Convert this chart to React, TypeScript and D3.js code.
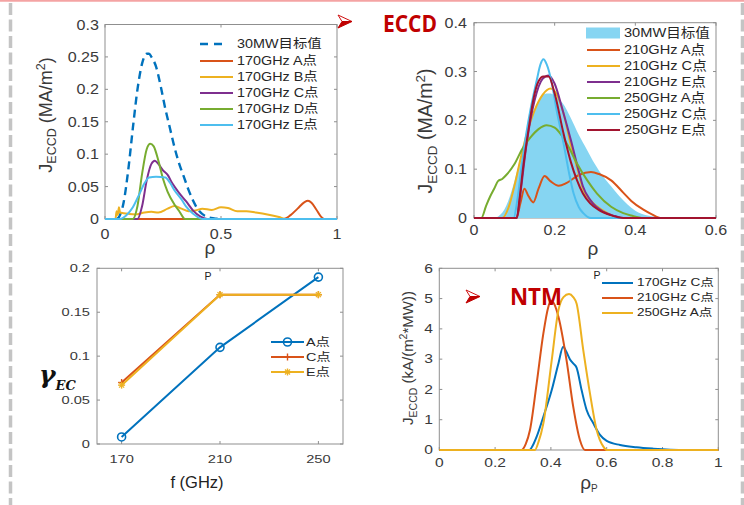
import React from 'react';
import * as d3 from 'd3';

type Pt = [number, number];

// ---------------- data ----------------
const targetProfile: Pt[] = [[0.05,0],[0.06,0.003],[0.08,0.025],[0.10,0.075],[0.12,0.14],[0.14,0.2],[0.16,0.24],[0.18,0.255],[0.19,0.255],[0.20,0.25],[0.22,0.235],[0.24,0.205],[0.26,0.17],[0.28,0.14],[0.30,0.11],[0.32,0.085],[0.34,0.065],[0.36,0.045],[0.38,0.028],[0.40,0.015],[0.43,0.005],[0.47,0.001],[0.5,0]];

const j170A: Pt[] = [[0,0],[0.77,0],[0.8,0.006],[0.83,0.016],[0.86,0.026],[0.875,0.028],[0.89,0.025],[0.91,0.015],[0.93,0.004],[0.945,0],[1,0]];
const j170B: Pt[] = [[0,0],[0.045,0],[0.05,0.012],[0.055,0.006],[0.06,0.018],[0.065,0.01],[0.08,0.009],[0.1,0.008],[0.13,0.007],[0.17,0.01],[0.2,0.011],[0.23,0.01],[0.27,0.016],[0.3,0.02],[0.33,0.016],[0.36,0.012],[0.39,0.013],[0.42,0.016],[0.46,0.014],[0.5,0.018],[0.53,0.017],[0.57,0.012],[0.61,0.012],[0.65,0.01],[0.7,0.007],[0.75,0.003],[0.78,0],[1,0]];
const j170C: Pt[] = [[0,0],[0.14,0],[0.16,0.02],[0.18,0.06],[0.2,0.085],[0.215,0.09],[0.23,0.085],[0.25,0.075],[0.27,0.068],[0.29,0.055],[0.32,0.04],[0.35,0.027],[0.38,0.013],[0.41,0.004],[0.44,0],[1,0]];
const j170D: Pt[] = [[0,0],[0.12,0],[0.14,0.02],[0.16,0.07],[0.18,0.108],[0.195,0.116],[0.21,0.112],[0.23,0.09],[0.25,0.062],[0.27,0.042],[0.3,0.022],[0.32,0.012],[0.345,0],[1,0]];
const j170E: Pt[] = [[0,0],[0.065,0],[0.09,0.005],[0.12,0.018],[0.15,0.04],[0.17,0.055],[0.19,0.064],[0.22,0.065],[0.26,0.064],[0.28,0.056],[0.3,0.044],[0.33,0.03],[0.35,0.019],[0.38,0.008],[0.4,0.003],[0.42,0],[1,0]];

const j210A: Pt[] = [[0,0],[0.105,0],[0.115,0.03],[0.125,0.06],[0.135,0.045],[0.147,0.032],[0.16,0.06],[0.175,0.086],[0.19,0.075],[0.21,0.066],[0.23,0.072],[0.26,0.088],[0.29,0.094],[0.31,0.09],[0.34,0.077],[0.37,0.052],[0.39,0.035],[0.42,0.017],[0.44,0.008],[0.465,0],[0.6,0]];
const j210C: Pt[] = [[0,0],[0.07,0],[0.085,0.02],[0.1,0.065],[0.115,0.12],[0.13,0.17],[0.15,0.22],[0.17,0.252],[0.19,0.265],[0.2,0.26],[0.22,0.22],[0.24,0.15],[0.26,0.09],[0.27,0.06],[0.29,0.035],[0.32,0.015],[0.34,0.006],[0.365,0],[0.6,0]];
const j210E: Pt[] = [[0,0],[0.106,0],[0.115,0.05],[0.13,0.15],[0.15,0.24],[0.17,0.285],[0.185,0.292],[0.2,0.275],[0.22,0.22],[0.24,0.16],[0.26,0.095],[0.27,0.065],[0.29,0.035],[0.32,0.013],[0.35,0.004],[0.37,0],[0.6,0]];
const j250A: Pt[] = [[0,0],[0.018,0],[0.03,0.025],[0.04,0.044],[0.05,0.06],[0.06,0.076],[0.07,0.08],[0.08,0.088],[0.1,0.11],[0.12,0.142],[0.14,0.165],[0.16,0.182],[0.18,0.19],[0.2,0.185],[0.215,0.172],[0.235,0.145],[0.255,0.112],[0.28,0.078],[0.305,0.05],[0.34,0.023],[0.37,0.01],[0.39,0.005],[0.42,0],[0.6,0]];
const j250C: Pt[] = [[0,0],[0.098,0],[0.108,0.04],[0.118,0.105],[0.13,0.175],[0.14,0.222],[0.155,0.28],[0.165,0.315],[0.172,0.325],[0.18,0.315],[0.193,0.276],[0.205,0.22],[0.222,0.153],[0.235,0.095],[0.247,0.05],[0.26,0.022],[0.271,0.01],[0.29,0],[0.6,0]];
const j250E: Pt[] = [[0,0],[0.106,0],[0.113,0.04],[0.122,0.105],[0.135,0.18],[0.147,0.242],[0.16,0.28],[0.172,0.29],[0.185,0.29],[0.2,0.255],[0.222,0.173],[0.24,0.115],[0.255,0.078],[0.27,0.05],[0.288,0.03],[0.31,0.016],[0.338,0.006],[0.37,0],[0.6,0]];

const freqs = [170, 210, 250];
const gammaA = [0.008, 0.11, 0.19];
const gammaC = [0.07, 0.17, 0.17];
const gammaE = [0.067, 0.17, 0.17];

const ntm170C: Pt[] = [[0,0],[0.323,0],[0.335,0.15],[0.349,0.44],[0.373,1.1],[0.403,1.98],[0.427,2.86],[0.444,3.41],[0.455,3.25],[0.468,3.0],[0.48,2.86],[0.492,2.72],[0.51,1.98],[0.528,1.32],[0.552,0.88],[0.576,0.5],[0.6,0.3],[0.648,0.165],[0.707,0.09],[0.767,0.044],[0.827,0.012],[0.886,0],[1,0]];
const ntm210C: Pt[] = [[0,0],[0.295,0],[0.31,0.2],[0.325,0.66],[0.349,2.2],[0.373,3.85],[0.39,4.7],[0.4,4.93],[0.413,4.8],[0.427,4.4],[0.456,2.97],[0.48,1.43],[0.504,0.33],[0.522,0],[1,0]];
const ntm250A: Pt[] = [[0,0],[0.343,0],[0.355,0.25],[0.373,0.88],[0.403,2.97],[0.427,4.62],[0.445,5.05],[0.465,5.15],[0.48,5.05],[0.492,4.84],[0.516,3.3],[0.54,1.87],[0.564,0.66],[0.588,0.11],[0.6,0],[1,0]];

const p1Legend = ['30MW目标值', '170GHz A点', '170GHz B点', '170GHz C点', '170GHz D点', '170GHz E点'];
const p2Legend = ['30MW目标值', '210GHz A点', '210GHz C点', '210GHz E点', '250GHz A点', '250GHz C点', '250GHz E点'];
const p3Legend = ['A点', 'C点', 'E点'];
const p4Legend = ['170GHz C点', '210GHz C点', '250GHz A点'];

const p1XTicks = [0, 0.5, 1];
const p1XLabels = ['0', '0.5', '1'];
const p1YTicks = [0, 0.05, 0.1, 0.15, 0.2, 0.25, 0.3];
const p1YLabels = ['0', '0.05', '0.1', '0.15', '0.2', '0.25', '0.3'];
const p2XTicks = [0, 0.2, 0.4, 0.6];
const p2XLabels = ['0', '0.2', '0.4', '0.6'];
const p2YTicks = [0, 0.1, 0.2, 0.3, 0.4];
const p2YLabels = ['0', '0.1', '0.2', '0.3', '0.4'];
const p3XTicks = [170, 210, 250];
const p3XLabels = ['170', '210', '250'];
const p3YTicks = [0, 0.05, 0.1, 0.15, 0.2];
const p3YLabels = ['0', '0.05', '0.1', '0.15', '0.2'];
const p4XTicks = [0, 0.2, 0.4, 0.6, 0.8, 1];
const p4XLabels = ['0', '0.2', '0.4', '0.6', '0.8', '1'];
const p4YTicks = [0, 1, 2, 3, 4, 5, 6];
const p4YLabels = ['0', '1', '2', '3', '4', '5', '6'];

// ---------------- styles ----------------
const FONT = '"Liberation Sans", Arial, "Noto Sans CJK SC", sans-serif';
const AX = '#8f8f8f';
const TK = '#3a3a3a';
const LG = '#262626';
const BLUE = '#0072BD', ORANGE = '#D95319', YELLOW = '#EDB120', PURPLE = '#7E2F8E', GREEN = '#77AC30', CYAN = '#4DBEEE', DRED = '#A2142F';
const AREA = '#86d5f2';

function T(p: any) {
  const { x, y, size, sx = 1, anchor = 'start', fill = TK, weight = 'normal', base, children, family = FONT, italic, tl } = p;
  return (
    <text transform={`translate(${x},${y}) scale(${sx},1)`} fontSize={size} textAnchor={anchor} fill={fill}
      fontWeight={weight} fontFamily={family} fontStyle={italic ? 'italic' : 'normal'} dominantBaseline={base}
      textLength={tl} lengthAdjust={tl ? 'spacingAndGlyphs' : undefined}>{children}</text>
  );
}

function Frame(p: any) {
  const { xs, ys, xt, xl, yt, yl, fs, sx, xBase, yRight } = p;
  const [x0, x1] = xs.range();
  const [y0, y1] = ys.range();
  return (
    <g>
      <rect x={x0} y={y1} width={x1 - x0} height={y0 - y1} fill="white" stroke={AX} strokeWidth={1} />
      {xt.map((t: number, i: number) => (
        <g key={'x' + i}>
          <line x1={xs(t)} x2={xs(t)} y1={y0} y2={y0 - 3} stroke={AX} />
          <line x1={xs(t)} x2={xs(t)} y1={y1} y2={y1 + 3} stroke={AX} />
          <T x={xs(t)} y={xBase} size={fs} sx={sx} anchor="middle">{xl[i]}</T>
        </g>
      ))}
      {yt.map((t: number, i: number) => (
        <g key={'y' + i}>
          <line x1={x0} x2={x0 + 3} y1={ys(t)} y2={ys(t)} stroke={AX} />
          <line x1={x1} x2={x1 - 3} y1={ys(t)} y2={ys(t)} stroke={AX} />
          <T x={yRight} y={ys(t)} size={fs} sx={sx} anchor="end" base="central">{yl[i]}</T>
        </g>
      ))}
    </g>
  );
}

function Curve({ data, xs, ys, color, w = 2, dash }: any) {
  const line = d3.line<Pt>().x(d => xs(d[0])).y(d => ys(d[1])).curve(d3.curveMonotoneX);
  return <path d={line(data) || ''} fill="none" stroke={color} strokeWidth={w} strokeDasharray={dash} strokeLinejoin="round" />;
}

function Marker({ x, y, kind, color }: any) {
  if (kind === 'o') return <circle cx={x} cy={y} r={4} fill="none" stroke={color} strokeWidth={1.6} />;
  const s = 3.5;
  const plus = [<line key="a" x1={x - s} x2={x + s} y1={y} y2={y} stroke={color} strokeWidth={1.4} />,
    <line key="b" x1={x} x2={x} y1={y - s} y2={y + s} stroke={color} strokeWidth={1.4} />];
  if (kind === '+') return <g>{plus}</g>;
  const d = s * 0.72;
  return <g>{plus}<line x1={x - d} x2={x + d} y1={y - d} y2={y + d} stroke={color} strokeWidth={1.2} />
    <line x1={x - d} x2={x + d} y1={y + d} y2={y - d} stroke={color} strokeWidth={1.2} /></g>;
}

function Arrow({ x, y }: any) {
  return (
    <g>
      <path d={`M${x},${y} L${x + 14},${y + 6.5} L${x + 4},${y + 6.5} Z`} fill="white" stroke="#d01010" strokeWidth={1} strokeLinejoin="round" />
      <path d={`M${x},${y + 13} L${x + 14},${y + 6.5} L${x + 4},${y + 6.5} Z`} fill="#c00000" stroke="#c00000" strokeWidth={1} strokeLinejoin="round" />
    </g>
  );
}

export default function App() {
  const x1 = d3.scaleLinear().domain([0, 1]).range([105, 337]);
  const y1 = d3.scaleLinear().domain([0, 0.3]).range([219, 24.5]);
  const x2 = d3.scaleLinear().domain([0, 0.6]).range([474, 716]);
  const y2 = d3.scaleLinear().domain([0, 0.4]).range([218, 22.7]);
  const x3 = d3.scaleLinear().domain([160, 260]).range([97, 343]);
  const y3 = d3.scaleLinear().domain([0, 0.2]).range([444, 268.3]);
  const x4 = d3.scaleLinear().domain([0, 1]).range([439.3, 718.3]);
  const y4 = d3.scaleLinear().domain([0, 6]).range([450, 268.3]);

  const area = d3.area<Pt>().x(d => x2(d[0])).y0(y2(0)).y1(d => y2(d[1])).curve(d3.curveMonotoneX);

  const p1Series = [
    { d: j170A, c: ORANGE }, { d: j170B, c: YELLOW }, { d: j170C, c: PURPLE }, { d: j170D, c: GREEN }, { d: j170E, c: CYAN },
  ];
  const p2Series = [
    { d: j210A, c: ORANGE }, { d: j210C, c: YELLOW }, { d: j210E, c: PURPLE }, { d: j250A, c: GREEN }, { d: j250C, c: CYAN }, { d: j250E, c: DRED },
  ];
  const p3Series = [
    { v: gammaA, c: BLUE, m: 'o' }, { v: gammaC, c: ORANGE, m: '+' }, { v: gammaE, c: YELLOW, m: '*' },
  ];
  const p4Series = [{ d: ntm170C, c: BLUE }, { d: ntm210C, c: ORANGE }, { d: ntm250A, c: YELLOW }];

  const p1Rows = [44, 61, 77, 93, 109, 125];
  const p2Rows = [33, 50, 66, 82, 98, 114, 130];
  const p3Rows = [342, 357, 372];
  const p4Rows = [283, 298, 313];

  return (
    <svg width={744} height={505} style={{ position: 'absolute', left: 0, top: 0, background: 'white' }} fontFamily={FONT}>
      <rect x={0} y={0} width={744} height={505} fill="white" />
      <line x1={0} x2={744} y1={0.8} y2={0.8} stroke="#f4a3a3" strokeWidth={1.8} />
      <line x1={10.5} x2={10.5} y1={3} y2={505} stroke="#c4c4c4" strokeWidth={3.5} strokeDasharray="12,4.5" />
      <line x1={742.5} x2={742.5} y1={3} y2={505} stroke="#c4c4c4" strokeWidth={3.5} strokeDasharray="12,4.5" />

      {/* ---------- panel 1 ---------- */}
      <Frame xs={x1} ys={y1} xt={p1XTicks} xl={p1XLabels} yt={p1YTicks} yl={p1YLabels} fs={14} sx={1.15} xBase={239} yRight={99} />
      <Curve data={targetProfile} xs={x1} ys={y1} color={BLUE} w={2.4} dash="8,5" />
      {p1Series.map((s, i) => <Curve key={i} data={s.d} xs={x1} ys={y1} color={s.c} w={2} />)}
      {p1Legend.map((t, i) => (
        <g key={i}>
          {i === 0
            ? <line x1={200} x2={224} y1={p1Rows[i]} y2={p1Rows[i]} stroke={BLUE} strokeWidth={2.4} strokeDasharray="8,6" />
            : <line x1={200} x2={233} y1={p1Rows[i]} y2={p1Rows[i]} stroke={p1Series[i - 1].c} strokeWidth={2} />}
          <T x={237} y={p1Rows[i]} size={12.5} sx={1.15} base="central" fill={LG}>{t}</T>
        </g>
      ))}
      <text transform="translate(52,115) rotate(-90)" textAnchor="middle" fontSize={18} fill={TK} fontFamily={FONT}>
        J<tspan fontSize={12.5} dy={4}>ECCD</tspan><tspan dy={-4}> (MA/m</tspan><tspan fontSize={12.5} dy={-7}>2</tspan><tspan dy={7}>)</tspan>
      </text>
      <T x={210} y={254} size={19} anchor="middle" fill={TK}>ρ</T>

      {/* ---------- panel 2 ---------- */}
      <Frame xs={x2} ys={y2} xt={p2XTicks} xl={p2XLabels} yt={p2YTicks} yl={p2YLabels} fs={14} sx={1.15} xBase={235} yRight={467} />
      <path d={area(targetProfile) || ''} fill={AREA} stroke="none" />
      {p2Series.map((s, i) => <Curve key={i} data={s.d} xs={x2} ys={y2} color={s.c} w={2} />)}
      {p2Legend.map((t, i) => (
        <g key={i}>
          {i === 0
            ? <rect x={586} y={p2Rows[i] - 5.5} width={34} height={11} fill={AREA} />
            : <line x1={587} x2={620} y1={p2Rows[i]} y2={p2Rows[i]} stroke={p2Series[i - 1].c} strokeWidth={2} />}
          <T x={624} y={p2Rows[i]} size={12.6} sx={1.16} base="central" fill={LG}>{t}</T>
        </g>
      ))}
      <text transform="translate(432,131) rotate(-90)" textAnchor="middle" fontSize={19.5} fill={TK} fontFamily={FONT}>
        J<tspan fontSize={13.5} dy={4.5}>ECCD</tspan><tspan dy={-4.5}> (MA/m</tspan><tspan fontSize={13.5} dy={-7.5}>2</tspan><tspan dy={7.5}>)</tspan>
      </text>
      <T x={593} y={255} size={19} anchor="middle" fill={TK}>ρ</T>
      <Arrow x={338} y={15} />
      <T x={383} y={32} size={24} weight="bold" fill="#c00000" tl={54} family='"Open Sans", "Liberation Sans", sans-serif'>ECCD</T>

      {/* ---------- panel 3 ---------- */}
      <Frame xs={x3} ys={y3} xt={p3XTicks} xl={p3XLabels} yt={p3YTicks} yl={p3YLabels} fs={11.8} sx={1.24} xBase={463} yRight={90} />
      {p3Series.map((s, i) => {
        const pts: Pt[] = freqs.map((f, k) => [f, s.v[k]]);
        const ln = d3.line<Pt>().x(d => x3(d[0])).y(d => y3(d[1]));
        return (
          <g key={i}>
            <path d={ln(pts) || ''} fill="none" stroke={s.c} strokeWidth={2} />
            {pts.map((p, k) => <Marker key={k} x={x3(p[0])} y={y3(p[1])} kind={s.m} color={s.c} />)}
          </g>
        );
      })}
      {p3Legend.map((t, i) => (
        <g key={i}>
          <line x1={271} x2={304} y1={p3Rows[i]} y2={p3Rows[i]} stroke={p3Series[i].c} strokeWidth={2} />
          <Marker x={287.5} y={p3Rows[i]} kind={p3Series[i].m} color={p3Series[i].c} />
          <T x={306} y={p3Rows[i]} size={11.6} sx={1.24} base="central" fill={LG}>{t}</T>
        </g>
      ))}
      <text x={39} y={383} fontSize={25} fontWeight="bold" fontStyle="italic" fill="#111" fontFamily='"DejaVu Serif", "Liberation Serif", serif'>
        γ<tspan fontSize={13} dy={7}>EC</tspan>
      </text>
      <T x={197} y={488} size={16.5} anchor="middle" fill="#222">f (GHz)</T>
      <T x={208} y={280} size={10.5} anchor="middle" fill="#222">P</T>

      {/* ---------- panel 4 ---------- */}
      <Frame xs={x4} ys={y4} xt={p4XTicks} xl={p4XLabels} yt={p4YTicks} yl={p4YLabels} fs={12} sx={1.3} xBase={467} yRight={433} />
      {p4Series.map((s, i) => <Curve key={i} data={s.d} xs={x4} ys={y4} color={s.c} w={2} />)}
      {p4Legend.map((t, i) => (
        <g key={i}>
          <line x1={602} x2={633} y1={p4Rows[i]} y2={p4Rows[i]} stroke={p4Series[i].c} strokeWidth={2} />
          <T x={637} y={p4Rows[i]} size={10.6} sx={1.28} base="central" fill={LG}>{t}</T>
        </g>
      ))}
      <text transform="translate(413,358) rotate(-90)" textAnchor="middle" fontSize={15} fill={TK} fontFamily={FONT}>
        J<tspan fontSize={10.5} dy={3.5}>ECCD</tspan><tspan dy={-3.5}> (kA/(m</tspan><tspan fontSize={10.5} dy={-6}>2</tspan><tspan dy={6}>*MW))</tspan>
      </text>
      <text x={589} y={489} fontSize={19} textAnchor="middle" fill={TK} fontFamily={FONT}>
        ρ<tspan fontSize={10} dy={3}>P</tspan>
      </text>
      <T x={597} y={279} size={10.5} anchor="middle" fill="#222">P</T>
      <Arrow x={466} y={290} />
      <T x={510} y={305} size={24} weight="bold" fill="#c00000" tl={52} family='"Open Sans", "Liberation Sans", sans-serif'>NTM</T>
    </svg>
  );
}
